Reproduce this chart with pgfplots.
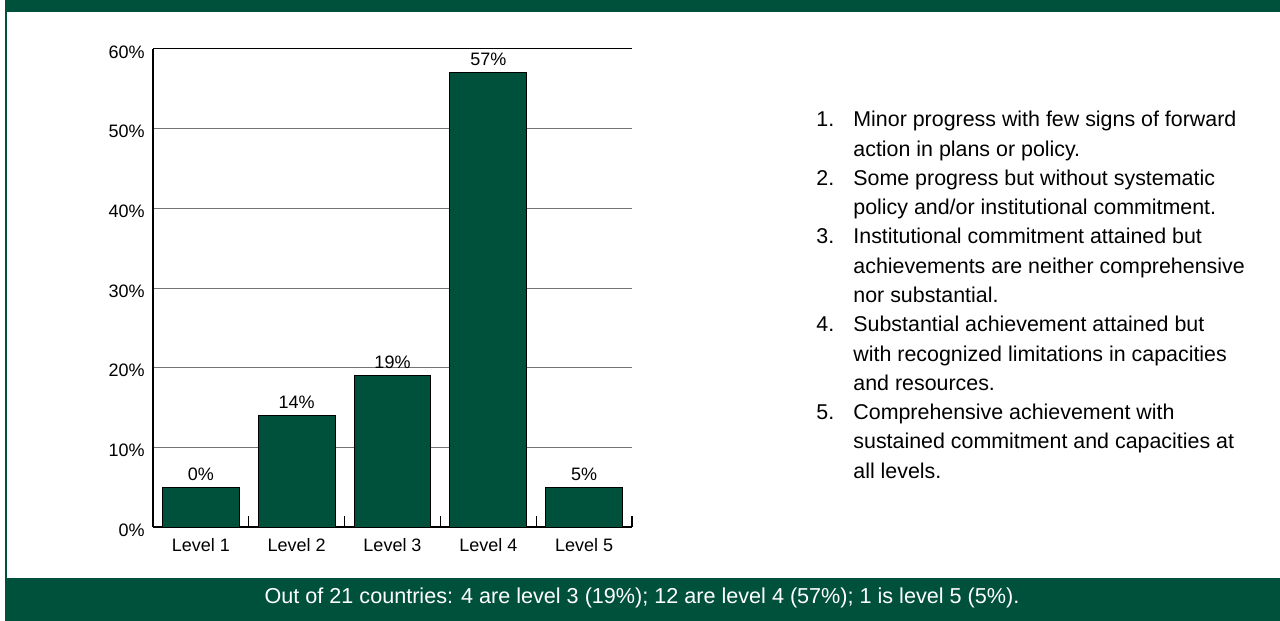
\documentclass[border=0pt]{standalone}
\usepackage{pgfplots}
\pgfplotsset{compat=1.18}
\usepackage{fontspec}
\setmainfont{Liberation Sans}
\definecolor{dg}{HTML}{00513B}
\newcommand\lf{\fontsize{10.7bp}{13bp}\selectfont}
\newcommand\tf{\fontsize{9bp}{10bp}\selectfont}
\begin{document}
\begin{tikzpicture}[x=0.5bp,y=-0.5bp]
\path[use as bounding box, fill=white] (0,0) rectangle (1280,621);
\fill[dg] (5,0) rectangle (1280,12);
\fill[dg] (5,0) rectangle (7,621);
\fill[dg] (5,577.5) rectangle (1280,621);
\node[anchor=base, text=white, font=\fontsize{10.8bp}{13bp}\selectfont, inner sep=0pt] at (642,603) {Out of 21 countries: 4 are level 3 (19\%); 12 are level 4 (57\%); 1 is level 5 (5\%).};

\begin{axis}[at={(76.5bp,-263.5bp)}, anchor=south west, scale only axis,
  width=239.5bp, height=239bp,
  xmin=-0.5, xmax=4.5, ymin=0, ymax=60,
  /pgf/number format/assume math mode=true,
  axis x line*=bottom, axis y line*=left,
  axis line style={black, line width=0.6bp},
  ytick={0,10,...,60},
  yticklabel={\pgfmathprintnumber{\tick}\%},
  y tick label style={font=\tf, inner sep=0pt, xshift=-4bp, yshift=-1.5bp},
  ytick style={draw=none},
  ymajorgrids, grid style={black!55, line width=0.5bp},
  xtick={0,...,4},
  xticklabels={Level 1,Level 2,Level 3,Level 4,Level 5},
  x tick label style={font=\tf, inner sep=0pt, yshift=-5.5bp},
  xtick style={draw=none},
  extra x ticks={0.5,1.5,2.5,3.5,4.5},
  extra x tick labels={},
  extra x tick style={grid=none, tick align=inside, major tick length=5.5bp, xtick style={draw=black, line width=0.6bp}},
]
\addplot[ybar, bar width=0.8, fill=dg, draw=black, line width=0.5bp,
  nodes near coords={\pgfplotspointmeta\%}, point meta=explicit symbolic,
  every node near coord/.append style={font=\tf, anchor=base, inner sep=0pt, yshift=3.5bp, text=black}]
  table[meta=lab] {
x y lab
0 5 0
1 14 14
2 19 19
3 57 57
4 5 5
};
\draw[black, line width=0.5bp] (axis cs:-0.5,60) -- (axis cs:4.5,60);
\end{axis}

\begin{scope}[every node/.style={anchor=base west, inner sep=0pt, font=\lf}]
\node at (816,127) {1.};
\node at (816,185.5) {2.};
\node at (816,244) {3.};
\node at (816,331.75) {4.};
\node at (816,419.5) {5.};
\node at (853,127) {Minor progress with few signs of forward};
\node at (853,156.25) {action in plans or policy.};
\node at (853,185.5) {Some progress but without systematic};
\node at (853,214.75) {policy and/or institutional commitment.};
\node at (853,244) {Institutional commitment attained but};
\node at (853,273.25) {achievements are neither comprehensive};
\node at (853,302.5) {nor substantial.};
\node at (853,331.75) {Substantial achievement attained but};
\node at (853,361) {with recognized limitations in capacities};
\node at (853,390.25) {and resources.};
\node at (853,419.5) {Comprehensive achievement with};
\node at (853,448.75) {sustained commitment and capacities at};
\node at (853,478) {all levels.};
\end{scope}
\end{tikzpicture}
\end{document}
